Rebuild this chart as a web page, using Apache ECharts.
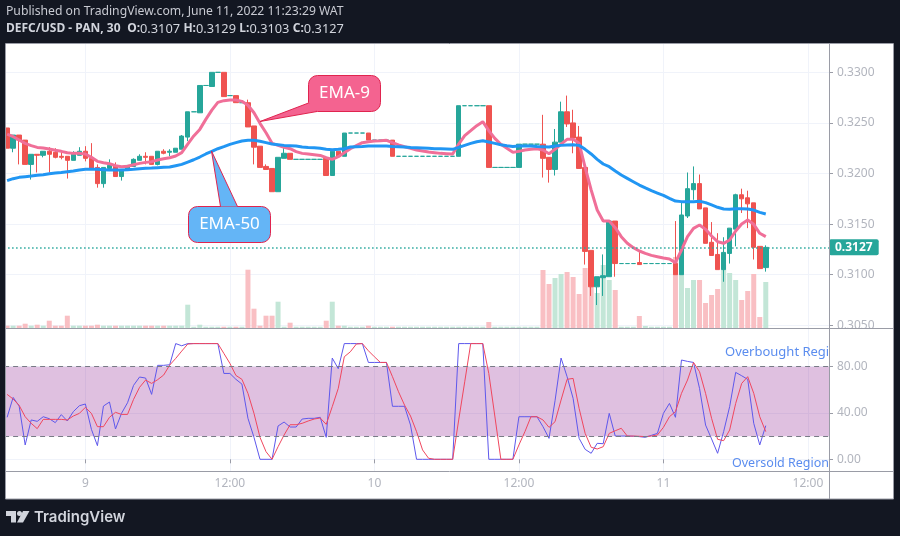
<!DOCTYPE html>
<html>
<head>
<meta charset="utf-8">
<style>html,body{margin:0;padding:0;background:#131722}#main{width:900px;height:536px}</style>
<script src="https://cdn.jsdelivr.net/npm/echarts@6/dist/echarts.min.js"></script>
</head>
<body>
<div id="main"></div>
<script>
// time axis: one 30 min bar per slot, labels only on these bars
var slotCount = 137;
var tickBars = [13, 37, 61, 85, 109, 133];
var tickLabels = ['9', '12:00', '10', '12:00', '11', '12:00'];
var priceTicks = [0.305, 0.31, 0.315, 0.32, 0.325, 0.33];
var rsiTicks = [0, 40, 80];

var opens = [
  .3245,.3225,.3238,.3233,.3209,.3219,.3218,.3222,.3221,.3217,
  .3217,.3213,.3218,.3222,.3215,.3206,.3190,.3205,.3208,.3197,
  .3203,.3207,.3213,.3217,.3217,.3209,.3222,.3221,.3221,.3224,
  .3236,.3261,.3260,.3287,.3286,.3300,.3300,.3277,.3277,.3270,
  .3270,.3247,.3227,.3207,.3205,.3182,.3215,.3220,.3214,.3214,
  .3214,.3214,.3214,.3215,.3198,.3222,.3217,.3240,.3240,.3240,
  .3240,.3233,.3233,.3233,.3233,.3217,.3217,.3217,.3217,.3217,
  .3217,.3217,.3217,.3217,.3217,.3217,.3267,.3267,.3267,.3267,
  .3267,.3206,.3206,.3206,.3206,.3206,.3229,.3229,.3229,.3229,
  .3216,.3204,.3231,.3261,.3250,.3236,.3206,.3124,.3088,.3097,
  .3098,.3153,.3111,.3111,.3111,.3112,.3111,.3111,.3111,.3111,
  .3111,.3111,.3100,.3158,.3184,.3190,.3166,.3132,.3120,.3105,
  .3121,.3145,.3179,.3176,.3171,.3128,.3107
];
var closes = [
  .3225,.3238,.3233,.3209,.3219,.3218,.3222,.3219,.3216,.3216,
  .3213,.3219,.3222,.3215,.3205,.3190,.3206,.3208,.3197,.3204,
  .3208,.3214,.3217,.3216,.3209,.3222,.3220,.3222,.3225,.3237,
  .3261,.3261,.3287,.3287,.3300,.3300,.3276,.3277,.3270,.3270,
  .3246,.3226,.3206,.3204,.3182,.3216,.3220,.3214,.3214,.3214,
  .3214,.3214,.3214,.3198,.3222,.3217,.3240,.3240,.3240,.3240,
  .3233,.3233,.3233,.3233,.3217,.3217,.3217,.3217,.3217,.3217,
  .3217,.3217,.3217,.3217,.3217,.3267,.3267,.3267,.3267,.3267,
  .3206,.3206,.3206,.3206,.3206,.3229,.3229,.3229,.3229,.3215,
  .3204,.3231,.3261,.3249,.3235,.3205,.3123,.3088,.3098,.3099,
  .3153,.3111,.3111,.3111,.3111,.3110,.3111,.3111,.3111,.3111,
  .3111,.3100,.3159,.3185,.3190,.3165,.3131,.3119,.3105,.3122,
  .3146,.3179,.3175,.3170,.3127,.3106,.3127
];
var lows = [
  .3225,.3221,.3209,.3209,.3194,.3201,.3216,.3201,.3215,.3214,
  .3195,.3213,.3218,.3212,.3205,.3186,.3186,.3205,.3197,.3193,
  .3203,.3207,.3213,.3209,.3209,.3208,.3219,.3217,.3221,.3224,
  .3232,.3261,.3260,.3287,.3286,.3300,.3276,.3277,.3270,.3270,
  .3246,.3209,.3206,.3204,.3182,.3182,.3215,.3214,.3214,.3214,
  .3214,.3214,.3214,.3198,.3198,.3217,.3217,.3240,.3240,.3240,
  .3233,.3233,.3233,.3233,.3217,.3217,.3217,.3217,.3217,.3217,
  .3217,.3217,.3217,.3217,.3217,.3217,.3267,.3267,.3267,.3267,
  .3206,.3206,.3206,.3206,.3206,.3206,.3229,.3229,.3229,.3196,
  .3191,.3198,.3231,.3246,.3220,.3205,.3110,.3079,.3070,.3079,
  .3098,.3098,.3111,.3111,.3111,.3110,.3111,.3111,.3111,.3111,
  .3111,.3100,.3100,.3156,.3174,.3165,.3131,.3119,.3105,.3093,
  .3111,.3128,.3161,.3146,.3115,.3106,.3103
];
var highs = [
  .3245,.3238,.3238,.3233,.3219,.3219,.3222,.3226,.3225,.3222,
  .3217,.3222,.3226,.3227,.3230,.3209,.3206,.3214,.3211,.3204,
  .3208,.3215,.3219,.3221,.3217,.3222,.3224,.3224,.3225,.3238,
  .3261,.3261,.3287,.3287,.3300,.3300,.3300,.3277,.3277,.3270,
  .3273,.3247,.3227,.3209,.3205,.3216,.3228,.3220,.3214,.3214,
  .3214,.3214,.3214,.3215,.3222,.3222,.3240,.3240,.3240,.3240,
  .3240,.3233,.3233,.3233,.3233,.3217,.3217,.3217,.3217,.3217,
  .3217,.3217,.3217,.3217,.3217,.3267,.3267,.3267,.3267,.3267,
  .3267,.3206,.3206,.3206,.3206,.3229,.3229,.3229,.3229,.3258,
  .3216,.3244,.3271,.3277,.3263,.3247,.3206,.3124,.3098,.3120,
  .3153,.3153,.3111,.3111,.3111,.3123,.3111,.3111,.3111,.3111,
  .3111,.3153,.3172,.3201,.3207,.3199,.3166,.3152,.3141,.3137,
  .3146,.3180,.3185,.3183,.3171,.3128,.3129
];
var volumes = [
  2.3,2.3,2.3,4.3,2.3,3.3,2.3,7.3,2.3,2.3,
  12.3,2.3,2.3,2.3,2.3,3.3,2.3,2.3,2.3,2.3,
  2.3,2.3,2.3,2.3,2.3,2.3,2.3,2.3,2.3,2.3,
  23.3,1.3,3.3,1.3,1.3,1.3,1.3,1.3,1.3,1.3,
  58.3,19.3,2.3,12.3,12.3,26.3,1.3,5.3,1.3,1.3,
  1.3,1.3,1.3,7.3,26.3,2.3,2.3,1.3,1.3,1.3,
  2.3,1.3,1.3,1.3,1.3,1.3,1.3,1.3,1.3,1.3,
  1.3,1.3,1.3,1.3,1.3,1.3,1.3,1.3,1.3,1.3,
  6,1.3,1.3,1.3,1.3,1.3,1.3,1.3,1.3,58,
  44,50,54,56,51,34,60,50,35,63,
  48,38,1.3,1.3,1.3,12,2,1.3,1.3,1.3,
  1.3,71,55,40,48,48,25,33,39,63,
  55,48,28,37,54,11,46
];
var ema9 = [
  .32390,.32364,.32331,.32298,.32275,.32258,.32252,.32242,.32229,.32219,
  .32206,.32199,.32199,.32193,.32160,.32120,.32107,.32097,.32077,.32067,
  .32071,.32087,.32100,.32110,.32117,.32133,.32146,.32156,.32173,.32206,
  .32291,.32371,.32436,.32535,.32627,.32703,.32720,.32726,.32726,.32713,
  .32674,.32601,.32496,.32403,.32298,.32278,.32258,.32245,.32216,.32199,
  .32193,.32186,.32179,.32156,.32140,.32166,.32206,.32245,.32275,.32305,
  .32314,.32321,.32324,.32328,.32305,.32282,.32265,.32249,.32232,.32222,
  .32212,.32206,.32199,.32196,.32193,.32291,.32374,.32423,.32473,.32512,
  .32423,.32347,.32288,.32249,.32209,.32219,.32232,.32239,.32245,.32232,
  .32196,.32239,.32291,.32338,.32338,.32298,.32061,.31837,.31639,.31531,
  .31531,.31465,.31376,.31310,.31267,.31234,.31211,.31191,.31178,.31165,
  .31155,.31119,.31244,.31376,.31458,.31491,.31448,.31382,.31326,.31310,
  .31343,.31432,.31501,.31541,.31498,.31409,.31376
];
var ema50 = [
  .31929,.31949,.31962,.31969,.31975,.31982,.31988,.31998,.32005,.32011,
  .32018,.32024,.32034,.32041,.32041,.32041,.32038,.32034,.32034,.32034,
  .32038,.32041,.32048,.32051,.32054,.32058,.32061,.32064,.32077,.32090,
  .32113,.32136,.32163,.32193,.32219,.32245,.32265,.32288,.32305,.32321,
  .32328,.32328,.32318,.32305,.32291,.32285,.32278,.32275,.32272,.32262,
  .32258,.32255,.32249,.32239,.32235,.32239,.32245,.32262,.32265,.32268,
  .32272,.32272,.32272,.32272,.32268,.32265,.32262,.32258,.32255,.32252,
  .32249,.32245,.32245,.32242,.32239,.32258,.32278,.32298,.32314,.32324,
  .32311,.32298,.32285,.32275,.32268,.32272,.32272,.32272,.32268,.32265,
  .32262,.32272,.32278,.32282,.32285,.32278,.32239,.32193,.32140,.32094,
  .32067,.32025,.31985,.31952,.31919,.31886,.31857,.31830,.31807,.31784,
  .31755,.31728,.31722,.31722,.31722,.31725,.31712,.31689,.31666,.31649,
  .31646,.31652,.31652,.31649,.31639,.31616,.31600
];
var rsi = [
  36.3,53.5,46.0,12.4,34.0,32.8,36.8,35.1,31.7,38.6,
  33.1,41.2,46.3,47.8,25.9,11.8,46.0,49.5,26.2,39.7,
  48.9,63.9,71.1,70.2,56.1,81.2,81.2,81.7,100,98.1,
  100,100,100,100,100,100,74.2,74.2,69.1,65.0,
  35.4,19.0,0,0,0,28.8,32.2,27.9,27.9,34.8,
  35.4,35.4,36.3,19.0,87.5,78.3,100,100,100,100,
  83.7,83.7,83.7,83.7,45.8,45.8,45.8,29.6,0,0,
  0,0,0,0,0,100,100,100,100,100,
  0,0,0,0,0,36.8,36.8,36.8,36.8,28.2,
  18.1,50.6,87.5,71.4,52.7,18.1,8.6,5.2,13.8,13.5,
  39.7,20.1,20.1,20.1,19.9,19.6,19.0,20.7,22.4,39.7,
  48.3,36.3,85.8,84.6,83.7,61.3,29.6,17.6,5.2,23.9,
  45.5,75.1,72.2,69.1,31.1,12.4,29.1
];
var rsiSignal = [
  56.1,52.1,46.6,36.8,31.1,26.5,34.5,34.5,34.5,34.5,
  34.0,37.4,39.7,44.9,39.7,28.2,28.2,36.3,40.6,38.8,
  38.8,51.8,62.2,68.5,65.6,68.8,72.8,81.4,87.2,93.5,
  99.6,100,100,100,100,100,91.5,82.9,72.5,69.1,
  57.0,39.7,19.0,6.6,0,10.9,21.0,29.9,29.9,31.1,
  33.1,34.8,35.7,30.2,45.5,61.3,88.6,92.9,99.6,100,
  93.8,88.6,83.7,83.7,71.4,58.4,46.9,37.4,23.9,8.1,
  0.9,0,0,0,0,34.0,67.0,100,100,100,
  74.2,37.4,0,0,0,12.4,23.9,36.8,36.8,34.0,
  27.6,32.5,51.2,69.1,69.9,44.0,22.4,10.4,8.9,10.9,
  22.4,24.7,26.8,20.1,20.1,19.9,19.6,20.1,21.0,27.6,
  36.8,41.2,57.0,68.5,83.7,75.7,57.0,35.4,17.3,16.1,
  25.3,48.3,65.6,71.4,57.0,36.8,23.9
];

var UP = '#26a69a', DOWN = '#ef5350';
var LABEL = '#b2b5be', GRIDLINE = '#f0f3fa', FRAME = '#9a9ca6', FONT = '"Noto Sans"';

var slots = [];
for (var i = 0; i < slotCount; i++) {
  var t = tickBars.indexOf(i);
  slots.push(t >= 0 ? tickLabels[t] : '');
}
function onTick(i) { return tickBars.indexOf(i) >= 0; }

var candles = opens.map(function (o, i) { return [o, closes[i], lows[i], highs[i]]; });
var volumeBars = volumes.map(function (v, i) {
  return { value: v, itemStyle: { color: closes[i] >= opens[i] ? '#c3e6d7' : '#f9bfc3' } };
});

function xAxisFor(gridIndex, showLabels) {
  return {
    type: 'category', gridIndex: gridIndex, data: slots,
    axisLine: { show: false },
    axisTick: { show: showLabels, alignWithLabel: true, interval: onTick, length: 4, lineStyle: { color: FRAME } },
    axisLabel: { show: showLabels, interval: onTick, color: LABEL, fontFamily: FONT, fontSize: 12, margin: 7 },
    splitLine: { show: true, alignWithLabel: true, interval: onTick, lineStyle: { color: GRIDLINE } }
  };
}

// callout: box, tail fill over the box border, then the two tail edges
function callout(box, tail, fill, label) {
  var edge = '#e0244f';
  return [
    { type: 'rect', z: 20, shape: { x: box[0], y: box[1], width: box[2], height: box[3], r: 9 }, style: { fill: fill, stroke: edge, lineWidth: 1 } },
    { type: 'polygon', z: 21, shape: { points: tail }, style: { fill: fill } },
    { type: 'polyline', z: 22, shape: { points: tail }, style: { fill: null, stroke: edge, lineWidth: 1 } },
    { type: 'text', z: 23, x: box[0] + box[2] / 2, y: box[1] + box[3] / 2, style: { text: label, fill: '#fff', font: '17px ' + FONT, align: 'center', verticalAlign: 'middle' } }
  ];
}

var graphics = [
  { type: 'rect', z: -10, shape: { x: 6, y: 44, width: 887, height: 455 }, style: { fill: '#fff' } },
  { type: 'rect', z: 10, shape: { x: 0, y: 44, width: 5.5, height: 455 }, style: { fill: '#131722' } },
  { type: 'rect', z: 11, shape: { x: 5.5, y: 43.5, width: 888, height: 455.5 }, style: { fill: null, stroke: FRAME, lineWidth: 1 } },
  // cuts the lowest price label at the pane border
  { type: 'rect', z: 10, shape: { x: 830, y: 329, width: 62, height: 6 }, style: { fill: '#fff' } },
  { type: 'line', z: 11, shape: { x1: 6, y1: 328.5, x2: 893, y2: 328.5 }, style: { stroke: FRAME, lineWidth: 1 } },
  { type: 'line', z: 11, shape: { x1: 6, y1: 471.5, x2: 893, y2: 471.5 }, style: { stroke: FRAME, lineWidth: 1 } },
  { type: 'line', z: 11, shape: { x1: 829.5, y1: 44, x2: 829.5, y2: 499 }, style: { stroke: FRAME, lineWidth: 1 } },
  { type: 'text', z: 12, x: 6, y: 12, style: { text: 'Published on TradingView.com, June 11, 2022 11:23:29 WAT', fill: '#c8cad2', font: '12.2px ' + FONT, verticalAlign: 'middle' } },
  { type: 'text', z: 12, x: 6, y: 29, style: {
    text: '{b|DEFC/USD - PAN, 30}  {b|O:}{n|0.3107} {b|H:}{n|0.3129} {b|L:}{n|0.3103} {b|C:}{n|0.3127}',
    verticalAlign: 'middle',
    rich: {
      b: { fill: '#d1d4dc', font: 'bold 12px ' + FONT },
      n: { fill: '#d1d4dc', font: '12.8px ' + FONT }
    }
  } },
  { type: 'text', z: 12, x: 725, y: 352, style: { text: 'Overbought Region', width: 107, overflow: 'truncate', ellipsis: '', fill: '#5b8def', font: '13px ' + FONT, verticalAlign: 'middle' } },
  { type: 'text', z: 12, x: 732, y: 463, style: { text: 'Oversold Region', width: 103, overflow: 'truncate', ellipsis: '', fill: '#5b8def', font: '12.5px ' + FONT, verticalAlign: 'middle' } },
  // logo
  { type: 'polygon', z: 12, shape: { points: [[6, 511], [16, 511], [16, 522.5], [11, 522.5], [11, 516], [6, 516]] }, style: { fill: '#d1d4dc' } },
  { type: 'circle', z: 12, shape: { cx: 19.5, cy: 513.5, r: 2.5 }, style: { fill: '#d1d4dc' } },
  { type: 'polygon', z: 12, shape: { points: [[23, 511], [29.5, 511], [23, 522.5], [17, 522.5]] }, style: { fill: '#d1d4dc' } },
  { type: 'text', z: 12, x: 34, y: 517, style: { text: 'TradingView', fill: '#d1d4dc', font: '600 15px Inter', verticalAlign: 'middle' } }
].concat(
  callout([308.5, 75.5, 72, 36], [[308.5, 103], [260, 121.5], [317, 111.5]], '#f46390', 'EMA-9'),
  callout([188.5, 206.5, 82, 36], [[220.5, 206.5], [211.5, 151], [237.5, 206.5]], '#64b5f6', 'EMA-50')
);

var option = {
  animation: false,
  backgroundColor: '#131722',
  graphic: { elements: graphics },
  grid: [
    { left: 4.1, width: 824.9, top: 44, height: 284 },
    { left: 4.1, width: 824.9, top: 329, height: 142 }
  ],
  xAxis: [xAxisFor(0, false), xAxisFor(1, true)],
  yAxis: [
    {
      type: 'value', gridIndex: 0, position: 'right', min: 0.30473, max: 0.3328,
      axisLine: { show: false },
      axisTick: { show: true, length: 4, customValues: priceTicks, lineStyle: { color: FRAME } },
      axisLabel: { customValues: priceTicks, color: LABEL, fontFamily: FONT, fontSize: 12, margin: 8, formatter: function (v) { return v.toFixed(4); } },
      splitLine: { lineStyle: { color: GRIDLINE } }
    },
    // volume pane overlay, hidden scale
    { type: 'value', gridIndex: 0, min: 0, max: 284, show: false },
    {
      type: 'value', gridIndex: 1, position: 'right', min: -10.1, max: 112.6,
      axisLine: { show: false },
      axisTick: { show: true, length: 4, customValues: rsiTicks, lineStyle: { color: FRAME } },
      axisLabel: { customValues: rsiTicks, color: LABEL, fontFamily: FONT, fontSize: 12, margin: 8, formatter: function (v) { return v.toFixed(2); } },
      splitLine: { lineStyle: { color: GRIDLINE } }
    }
  ],
  series: [
    { name: 'Volume', type: 'bar', xAxisIndex: 0, yAxisIndex: 1, barWidth: 5, z: 1, data: volumeBars },
    {
      name: 'DEFC/USD', type: 'candlestick', xAxisIndex: 0, yAxisIndex: 0, barWidth: 5, z: 2, data: candles,
      itemStyle: { color: UP, color0: DOWN, borderColor: UP, borderColor0: DOWN, borderColorDoji: UP, borderWidth: 1 },
      markLine: {
        silent: true, symbol: 'none', animation: false, precision: 4,
        lineStyle: { color: UP, type: [1.5, 2.5], width: 1.5 },
        label: {
          position: 'end', distance: 0, color: '#fff', fontFamily: FONT, fontSize: 12, fontWeight: 'bold',
          backgroundColor: UP, padding: [2, 6, 2, 6], borderRadius: 2,
          formatter: function (p) { return p.value.toFixed(4); }
        },
        data: [{ yAxis: closes[closes.length - 1] }]
      }
    },
    { name: 'EMA-9', type: 'line', xAxisIndex: 0, yAxisIndex: 0, z: 3, showSymbol: false, data: ema9, lineStyle: { color: '#f06f98', width: 3 } },
    { name: 'EMA-50', type: 'line', xAxisIndex: 0, yAxisIndex: 0, z: 3, showSymbol: false, data: ema50, lineStyle: { color: '#2196f3', width: 3 } },
    {
      name: 'Stoch RSI', type: 'line', xAxisIndex: 1, yAxisIndex: 2, z: 3, showSymbol: false, data: rsi,
      lineStyle: { color: '#5e58ec', width: 1 },
      markArea: { silent: true, itemStyle: { color: 'rgba(148,45,152,0.3)' }, data: [[{ yAxis: 80 }, { yAxis: 20 }]] },
      markLine: {
        silent: true, symbol: 'none', animation: false, label: { show: false },
        lineStyle: { color: '#787b86', type: [5, 4], width: 1 },
        data: [{ yAxis: 80 }, { yAxis: 20 }]
      }
    },
    { name: 'Signal', type: 'line', xAxisIndex: 1, yAxisIndex: 2, z: 3, showSymbol: false, data: rsiSignal, lineStyle: { color: '#f0475f', width: 1 } }
  ]
};

var myChart = echarts.init(document.getElementById('main'));
myChart.setOption(option);
</script>
</body>
</html>
